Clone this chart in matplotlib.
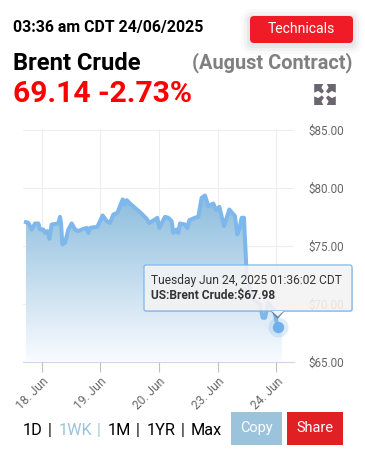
import numpy as np
import matplotlib
matplotlib.use("Agg")
import matplotlib.pyplot as plt
from matplotlib.patches import FancyBboxPatch, Rectangle, Polygon
from matplotlib.colors import LinearSegmentedColormap

plt.rcParams['font.family'] = ['Roboto', 'DejaVu Sans']

# days since the 18. Jun tick (the axis skips the weekend)
days = [-0.264, -0.224, -0.167, -0.110, -0.054, -0.025, 0.031, 0.060, 0.099, 0.134, 0.173, 0.287,
        0.315, 0.332, 0.355, 0.400, 0.457, 0.514, 0.570, 0.627, 0.684, 0.769, 0.797, 0.826, 0.951,
        1.041, 1.109, 1.166, 1.223, 1.291, 1.382, 1.421, 1.450, 1.506, 1.677, 1.733, 1.790, 1.835,
        1.932, 1.971, 2.005, 2.102, 2.158, 2.215, 2.244, 2.300, 2.329, 2.357, 2.442, 2.482, 2.516,
        2.612, 2.669, 2.726, 2.783, 2.839, 2.924, 2.970, 3.027, 3.106, 3.197, 3.293, 3.333, 3.367,
        3.407, 3.446, 3.480, 3.492, 3.606, 3.719, 3.765, 3.804, 3.861, 3.960, 4.020]
prices = [77.01, 76.95, 76.38, 76.90, 76.90, 76.38, 76.38, 76.09, 76.24, 75.58, 76.81, 76.90,
          77.47, 76.95, 75.09, 75.23, 76.38, 76.90, 76.38, 76.24, 76.38, 76.52, 76.09, 76.52, 76.61,
          77.59, 77.10, 76.95, 77.67, 77.82, 78.97, 78.53, 78.91, 78.62, 77.87, 77.59, 77.30, 76.95,
          77.24, 77.39, 76.52, 77.47, 77.39, 77.10, 76.09, 76.38, 76.09, 76.90, 76.81, 76.52, 77.18,
          77.39, 77.47, 79.11, 79.31, 78.39, 78.62, 78.05, 78.33, 76.67, 78.10, 77.53, 75.95, 76.38,
          77.39, 77.39, 73.79, 72.36, 70.35, 69.92, 68.77, 68.77, 70.06, 69.40, 67.98]

x_ticks = [0, 1, 2, 3, 4]
x_labels = ['18. Jun', '19. Jun', '20. Jun', '23. Jun', '24. Jun']
y_ticks = [65, 70, 75, 80, 85]
y_labels = ['$65.00', '$70.00', '$75.00', '$80.00', '$85.00']

W, H = 365, 469
fig = plt.figure(figsize=(W / 100, H / 100), dpi=100, facecolor='white')


def px(size):
    return size * 0.72


# chart area, placed in pixels
left, right, top, bottom = 23, 294, 129.5, 361.5
ax = fig.add_axes([left / W, 1 - bottom / H, (right - left) / W, (bottom - top) / H])
ax.set_xlim((left - 41.5) / 58.75, (right - 41.5) / 58.75)
ax.set_ylim(65, 85)
for name in ['top', 'left', 'right']:
    ax.spines[name].set_visible(False)
ax.spines['bottom'].set_color('#ccd6eb')
ax.spines['bottom'].set_linewidth(0.8)
ax.grid(True, color='#eeeeee', linewidth=0.8)
ax.set_axisbelow(True)
ax.set_xticks(x_ticks)
ax.set_xticklabels(x_labels, rotation=45, ha='right', va='top', rotation_mode='anchor',
                   fontsize=px(12), color='#666666')
ax.yaxis.tick_right()
ax.set_yticks(y_ticks)
ax.set_yticklabels(y_labels, fontsize=px(11.6), color='#666666')
ax.tick_params(axis='x', length=7, width=0.8, color='#c0c0c0', pad=3)
ax.tick_params(axis='y', length=0, pad=10.5)

# area under the line with vertical fade
cmap = LinearSegmentedColormap.from_list('fade', [(0.975, 0.985, 1.0), (0.55, 0.74, 0.865)])
grad = np.linspace(0, 1, 256).reshape(-1, 1)
img = ax.imshow(grad, extent=[ax.get_xlim()[0], ax.get_xlim()[1], 65, max(prices)],
                origin='lower', aspect='auto', cmap=cmap, zorder=1)
fill_x = days + [days[-1] + 0.07, days[-1] + 0.07, days[0]]
fill_y = prices + [prices[-1], 65, 65]
clip = Polygon(np.column_stack([fill_x, fill_y]), closed=True, transform=ax.transData, fc='none', ec='none')
ax.add_patch(clip)
img.set_clip_path(clip)
ax.set_xlim((left - 41.5) / 58.75, (right - 41.5) / 58.75)
ax.set_ylim(65, 85)

ax.plot(days, prices, color='#7db7ec', linewidth=2.9, solid_joinstyle='round', zorder=3)
ax.plot(days[-1], prices[-1], 'o', ms=14.4, color='#7db7ec', alpha=0.25, mew=0, zorder=4)
ax.plot(days[-1], prices[-1], 'o', ms=8.2, color='#6fb0ea', mew=0, zorder=5)

# everything else sits on a full-figure layer in pixel coordinates
ov = fig.add_axes([0, 0, 1, 1], facecolor='none')
ov.set_xlim(0, W)
ov.set_ylim(H, 0)
ov.axis('off')

# tooltip
tip_x, tip_y = ov.transData.inverted().transform(ax.transData.transform((days[-1], prices[-1])))
ov.add_patch(FancyBboxPatch((145, 267), 208, 45, boxstyle='round,pad=0,rounding_size=2',
                            fc='#888888', ec='none', alpha=0.25, zorder=10))
ov.add_patch(Polygon([[tip_x - 8, 310], [tip_x + 8, 310], [tip_x, 319]], fc='#4a6a80', ec='none', alpha=0.75, zorder=10))
ov.add_patch(FancyBboxPatch((144, 265), 208, 46, boxstyle='round,pad=0,rounding_size=2',
                            fc=(0.97, 0.97, 0.97, 0.87), ec='#7db7ec', lw=0.9, zorder=11))
ov.add_patch(Polygon([[tip_x - 6, 311], [tip_x, 316.5], [tip_x + 6, 311]], closed=True, fc='#f0f3f6', ec='none', zorder=12))
ov.text(151, 280.5, 'Tuesday Jun 24, 2025 01:36:02 CDT', fontsize=px(12), color='#333333', va='center', zorder=13)
ov.text(151, 296, 'US:Brent Crude:$67.98', fontsize=px(12), fontweight='bold', color='#333333', va='center', zorder=13)

# header
ov.text(13, 27.5, '03:36 am CDT 24/06/2025', fontsize=px(15.9), fontweight='bold', color='black', va='center')
ov.text(13, 64, 'Brent Crude', fontsize=px(23.8), fontweight='bold', color='black', va='center')
ov.text(353, 63, '(August Contract)', fontsize=px(20), fontweight='bold', color='#808080', va='center', ha='right')
ov.text(13, 93.5, '69.14 -2.73%', fontsize=px(30), fontweight='bold', color='#ff0000', va='center')
for grow, a in zip([9, 6, 3], [0.02, 0.03, 0.04]):
    ov.add_patch(FancyBboxPatch((250 - grow, 16 - grow + 2), 103 + 2 * grow, 27 + 2 * grow,
                                boxstyle='round,pad=0,rounding_size=%d' % (3 + grow), fc='black', ec='none', alpha=a))
ov.add_patch(FancyBboxPatch((250, 16), 103, 27, boxstyle='round,pad=0,rounding_size=4', fc='#ef1c27', ec='none'))
ov.text(301.5, 29, 'Technicals', fontsize=px(14), color='white', ha='center', va='center')

# expand icon: four chunky arrows from the centre
icx, icy = 325, 94.5
for sx, sy in [(-1, -1), (1, -1), (-1, 1), (1, 1)]:
    ov.add_patch(Polygon([[icx + sx * 10.8, icy + sy * 10.5], [icx + sx * 1.8, icy + sy * 10.5], [icx + sx * 3.6, icy + sy * 6.8],
                          [icx + sx * 1.0, icy + sy * 3.2], [icx + sx * 3.2, icy + sy * 1.0], [icx + sx * 6.8, icy + sy * 3.6],
                          [icx + sx * 10.8, icy + sy * 1.8]], fc='#6b6570', ec='none'))

# range selector and buttons
for label, x, col in [('1D', 23, 'black'), ('|', 48, 'black'), ('1WK', 59, '#9cc3dc'), ('|', 97, '#9cc3dc'),
                      ('1M', 108, 'black'), ('|', 136, 'black'), ('1YR', 147, 'black'), ('|', 180.5, 'black'), ('Max', 191, 'black')]:
    ov.text(x, 430.5, label, fontsize=px(16.2), color=col, va='center')
ov.add_patch(Rectangle((231, 412), 51, 33, fc='#9cc3dc', ec='none'))
ov.text(256.5, 428, 'Copy', fontsize=px(14.5), color='white', ha='center', va='center')
ov.add_patch(Rectangle((287, 412), 56, 33, fc='#e12024', ec='none'))
ov.text(315, 428, 'Share', fontsize=px(14.5), color='white', ha='center', va='center')

fig.savefig('out.png', dpi=100)
